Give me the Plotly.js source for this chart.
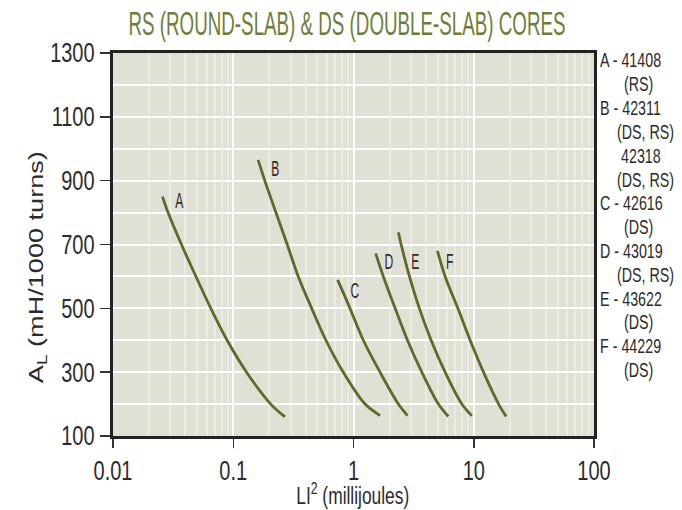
<!DOCTYPE html>
<html>
<head>
<meta charset="utf-8">
<script src="https://cdn.plot.ly/plotly-3.0.1.min.js"></script>
<style>html,body{margin:0;padding:0;background:#fff;}#chart{width:682px;height:510px;}</style>
</head>
<body>
<div id="chart"></div>
<script>
// ---- data ----
const curveNames = ["A", "B", "C", "D", "E", "F"];
const xA = [0.0258, 0.0287, 0.0371, 0.0489, 0.0651, 0.0889, 0.129, 0.205, 0.269];
const yA = [850, 800, 700, 600, 500, 400, 300, 200, 160];
const xB = [0.161, 0.183, 0.2265, 0.281, 0.347, 0.449, 0.590, 0.822, 1.247, 1.662];
const yB = [965, 900, 800, 700, 600, 500, 400, 300, 200, 164];
const xC = [0.739, 0.935, 1.207, 1.662, 2.36, 2.81];
const yC = [589, 500, 400, 300, 200, 164];
const xD = [1.53, 1.77, 2.22, 2.81, 3.70, 5.08, 6.15];
const yD = [672, 600, 500, 400, 300, 200, 161];
const xE = [2.36, 2.49, 2.92, 3.53, 4.42, 5.78, 7.96, 9.64];
const yE = [738, 700, 600, 500, 400, 300, 200, 163];
const xF = [4.99, 5.78, 7.38, 9.34, 12.05, 16.1, 18.6];
const yF = [680, 600, 500, 400, 300, 200, 161];
const labelX = [0.0355, 0.2265, 1.03, 1.975, 3.25, 6.24];
const labelY = [839, 939, 557, 646, 646, 646];
const legendLines = ["A - 41408", "(RS)", "B - 42311", "(DS, RS)", "42318", "(DS, RS)",
                     "C - 42616", "(DS)", "D - 43019", "(DS, RS)", "E - 43622", "(DS)",
                     "F - 44229", "(DS)"];
const xTickVals = [0.01, 0.1, 1, 10, 100];
const xTickText = ["0.01", "0.1", "1", "10", "100"];
const yTickVals = [100, 300, 500, 700, 900, 1100, 1300];
const minorMultipliers = [2, 3, 4, 5, 6, 7, 8, 9];
const titleText = "RS (ROUND-SLAB) &amp; DS (DOUBLE-SLAB) CORES";
const xTitleText = "LI<sup>2</sup> (millijoules)";
const yTitleText = "A<sub>L</sub> (mH/1000 turns)";

// ---- styling ----
const FONT = "'Liberation Sans', Arial, sans-serif";
const LINE = "#5c6b2a";
const TXT = "#2b2b2b";
const ML = 113, MR = 88, MT = 53, MB = 74, W = 682, H = 510;
const PW = W - ML - MR, PH = H - MT - MB;
const legendIndent = [0, 24, 0, 17, 21, 17, 0, 24, 0, 17, 0, 24, 0, 24];

const minorVals = [];
[0.01, 0.1, 1, 10].forEach(d => minorMultipliers.forEach(m => minorVals.push(d * m)));

const xs = [xA, xB, xC, xD, xE, xF];
const ys = [yA, yB, yC, yD, yE, yF];
const traces = curveNames.map((n, i) => ({
  type: "scatter", mode: "lines", name: n,
  x: xs[i], y: ys[i],
  line: {color: LINE, width: 2.8, shape: "spline", smoothing: 0.9},
  hoverinfo: "skip", showlegend: false
}));

const annotations = curveNames.map((n, i) => ({
  x: Math.log10(labelX[i]), y: labelY[i], xref: "x", yref: "y",
  text: n, showarrow: false, font: {family: FONT, size: 22, color: TXT}
}));
const nCurveLabels = annotations.length;

legendLines.forEach((t, i) => {
  const px = 598 + legendIndent[i];
  const py = 60 + i * 23.8;
  annotations.push({
    xref: "paper", yref: "paper", x: (px - ML) / PW, y: (H - MB - py) / PH,
    xanchor: "left", yanchor: "middle", align: "left", text: t, showarrow: false,
    font: {family: FONT, size: 21, color: TXT}
  });
});
const nLegend = legendLines.length;

// axis titles as annotations (positioned in pixels of the reference)
annotations.push({
  xref: "paper", yref: "paper", x: (353 - ML) / PW, y: (H - MB - 494) / PH,
  xanchor: "center", yanchor: "middle", text: xTitleText, showarrow: false,
  font: {family: FONT, size: 23, color: TXT}
});
annotations.push({
  xref: "paper", yref: "paper", x: (37 - ML) / PW, y: (H - MB - 267) / PH,
  xanchor: "center", yanchor: "middle", text: yTitleText, showarrow: false, textangle: -90,
  font: {family: FONT, size: 21, color: TXT}
});

const layout = {
  width: W, height: H,
  margin: {l: ML, r: MR, t: MT, b: MB, pad: 0},
  paper_bgcolor: "#ffffff", plot_bgcolor: "#e0e0d4",
  font: {family: FONT, color: TXT},
  title: {text: titleText,
          font: {family: FONT, size: 33, color: "#6e7d39"},
          xref: "container", yref: "container",
          x: 347 / W, xanchor: "center", y: 1 - 23 / H, yanchor: "middle"},
  xaxis: {
    type: "log", range: [-2, 2],
    tickmode: "array", tickvals: xTickVals, ticktext: xTickText,
    ticks: "outside", ticklen: 9, tickwidth: 1.5, tickcolor: "#333",
    tickfont: {family: FONT, size: 27, color: TXT},
    showline: true, linecolor: "#222", linewidth: 3, mirror: true,
    showgrid: true, gridcolor: "#ffffff", gridwidth: 2,
    minor: {tickmode: "array", tickvals: minorVals, showgrid: true,
            gridcolor: "#ebebe2", gridwidth: 2, ticks: ""},
    zeroline: false
  },
  yaxis: {
    range: [100, 1300], tickmode: "array", tickvals: yTickVals,
    ticks: "outside", ticklen: 10, tickwidth: 1.5, tickcolor: "#333",
    tickfont: {family: FONT, size: 27, color: TXT},
    showline: true, linecolor: "#222", linewidth: 3, mirror: true,
    showgrid: true, gridcolor: "#ffffff", gridwidth: 2,
    minor: {dtick: 100, tick0: 100, showgrid: true, gridcolor: "#ffffff", gridwidth: 2, ticks: ""},
    zeroline: false
  },
  annotations: annotations,
  showlegend: false
};

// condense text horizontally (reference uses a condensed typeface)
function setLen(el, len) {
  if (!el || !(len > 0)) return;
  el.setAttribute("textLength", len.toFixed(2));
  el.setAttribute("lengthAdjust", "spacingAndGlyphs");
}
function squeeze(el, f) {
  if (!el) return;
  setLen(el, el.getComputedTextLength() * f);
}

Plotly.newPlot("chart", traces, layout, {displayModeBar: false, staticPlot: true}).then(gd => {
  gd.querySelectorAll(".xtick text, .ytick text").forEach(t => squeeze(t, 0.74));
  setLen(gd.querySelector(".g-gtitle text"), 437);
  const ann = gd.querySelectorAll(".annotation");
  ann.forEach((g, i) => {
    const t = g.querySelector("text");
    if (i < nCurveLabels) squeeze(t, 0.55);
    else if (i < nCurveLabels + nLegend) squeeze(t, 0.68);
    else if (i === nCurveLabels + nLegend) setLen(t, 113);
    else setLen(t, 232);
  });
});
</script>
</body>
</html>
